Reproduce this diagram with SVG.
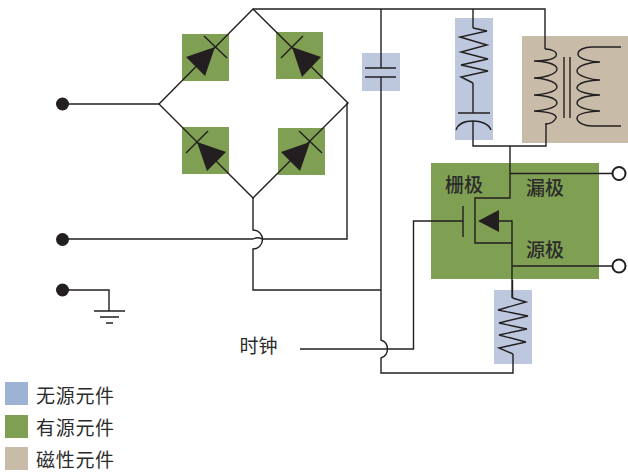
<svg xmlns="http://www.w3.org/2000/svg" width="628" height="473" viewBox="0 0 628 473">
<style>
.w{fill:none;stroke:#231f20;stroke-width:1.4}
.f{fill:#231f20;stroke:none}
.g{fill:#7f9f52}
.b{fill:#bdc8de}
.t{fill:#c8bca9}
.o{fill:#fff;stroke:#231f20;stroke-width:2}
text{font-family:"Noto Sans CJK SC","Liberation Sans",sans-serif;fill:#2b2b2b;font-size:19px}
.l{font-size:19px;letter-spacing:.7px}
.m{font-weight:500}
</style>
<rect width="628" height="473" fill="#fff"/>
<g id="D1"><rect class="g" x="182" y="34" width="47" height="47"/></g>
<g id="D2"><rect class="g" x="276" y="32" width="47" height="47"/></g>
<g id="D3"><rect class="g" x="182" y="127" width="47" height="47"/></g>
<g id="D4"><rect class="g" x="278" y="128" width="47" height="47"/></g>
<g id="C1"><rect class="b" x="362" y="53" width="38" height="38"/></g>
<g id="RC"><rect class="b" x="455" y="18" width="38" height="122"/></g>
<g id="T1"><rect class="t" x="522" y="36" width="106" height="107"/></g>
<g id="Q1"><rect class="g" x="431" y="163" width="168" height="116"/></g>
<g id="R2"><rect class="b" x="494" y="290" width="38" height="74"/></g>
<g id="connectors">
<path class="w" d="M253,9 L159,104 L253,198 L348,103 Z"/>
<path class="w" d="M253,9H545V49"/>
<path class="w" d="M62,104H159"/>
<path class="w" d="M347,103V239H262A9.500,9.500 0 0 0 253,239H62"/>
<path class="w" d="M253,198V230A9.500,9.500 0 0 1 253,249V290H381"/>
<path class="w" d="M62,290H109V311"/>
<path class="w" d="M381,9V68M381,77V340A9.500,9.500 0 0 1 381,358V373H513V354"/>
<path class="w" d="M300,349H413.500V221H463"/>
<path class="w" d="M473,9V28"/>
<path class="w" d="M473,83V113M473,121V146H546V124"/>
<path class="w" d="M510,146V198H475V243H512"/>
<path class="w" d="M499,221H512V298M512.500,280V298"/>
<path class="w" d="M510,173.500H612M512,266H612"/>
</g>
<g id="D1s"><path class="f" d="M215,47L186,57L205,76Z"/><path class="w" d="M204,36L227,58"/></g>
<g id="D2s"><path class="f" d="M292,47L321,57L302,77Z"/><path class="w" d="M281,58L303,36"/></g>
<g id="D3s"><path class="f" d="M197,142L226,152L207,171Z"/><path class="w" d="M186,153L208,131"/></g>
<g id="D4s"><path class="f" d="M310,142L281,152L300,171Z"/><path class="w" d="M299,131L322,153"/></g>
<g id="C1s"><path class="w" d="M365,68H396M365,77H396"/></g>
<g id="RCs"><path class="w" d="M473,28L487,31L460,37L487,45L461,52L488,59L461,65L488,71L461,77L473,83"/><path class="w" d="M458,113H490M456,130C458,124 465,121 473,121C481,121 489,124 491,130"/></g>
<g id="T1s">
<path class="w" d="M545,49C552,49 558,52 556,56C554,60 541,61 534,61C541,61 557,63 557,69C557,75 541,78 534,78C541,78 557,81 557,87C557,92 541,95 534,95C541,95 557,97 557,103C557,108 541,111 534,111C541,111 558,113 556,118C554,122 550,124 545,124"/>
<path class="w" d="M564,57V118M570,57V118"/>
<path class="w" d="M621,47H592C584,47 578,50 578,54C578,59 592,62 600,62C592,62 577,65 577,71C577,76 592,80 600,80C592,80 577,82 577,88C577,92 592,95 600,95C592,95 577,97 577,103C577,108 592,111 600,111C592,111 577,113 577,118C577,123 585,126 592,126H621"/>
</g>
<g id="Q1s">
<path class="w" d="M463,206V237"/>
<path class="f" d="M478,221L499,210V232Z"/>
<circle class="o" cx="619" cy="173.500" r="6.500"/>
<circle class="o" cx="619" cy="266" r="6.500"/>
<text class="m" x="445" y="192">栅极</text>
<text class="m" x="526" y="195">漏极</text>
<text class="m" x="526" y="257">源极</text>
</g>
<g id="R2s"><path class="w" d="M512.500,298L526,302L498,310L528,316L499,323L527,329L499,335L526,342L499,348L513,354"/></g>
<g id="in1"><circle class="f" cx="62.500" cy="104" r="6.500"/></g>
<g id="in2"><circle class="f" cx="62.500" cy="239.500" r="6.500"/></g>
<g id="in3"><circle class="f" cx="62.500" cy="290" r="6.500"/></g>
<g id="gnd"><path class="w" d="M94,311H125M100,317H119M106,323H113"/></g>
<g id="clk"><text x="239.500" y="353">时钟</text></g>
<g id="legend">
<rect x="5" y="382" width="23" height="23" fill="#9db3d3"/><text class="l" x="36" y="402.500">无源元件</text>
<rect class="g" x="5" y="415" width="23" height="23"/><text class="l" x="36" y="434.500">有源元件</text>
<rect class="t" x="5" y="447" width="23" height="23"/><text class="l" x="36" y="466.500">磁性元件</text>
</g>
</svg>
